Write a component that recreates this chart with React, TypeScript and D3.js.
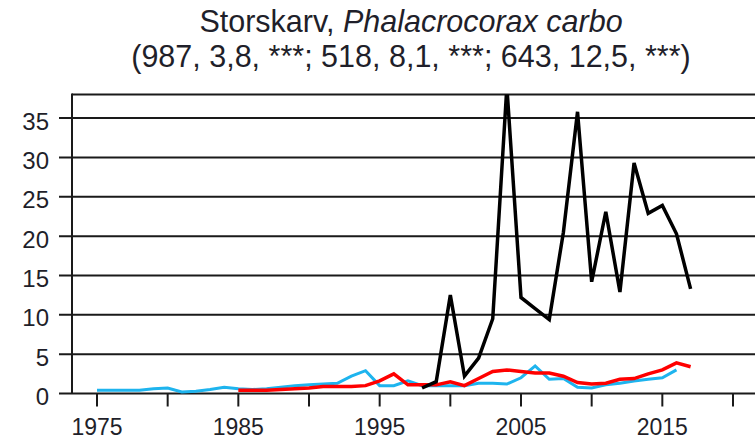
import React from 'react'
import { scaleLinear, line } from 'd3'

// tick values
const yTicks = [0, 5, 10, 15, 20, 25, 30, 35]
const xTicks = [1975, 1980, 1985, 1990, 1995, 2000, 2005, 2010, 2015, 2020]
const xLabels = [1975, 1985, 1995, 2005, 2015]

// series (yearly values)
const blueStart = 1975
const blueValues = [0.4, 0.4, 0.4, 0.4, 0.6, 0.7, 0.2, 0.3, 0.5, 0.8,
	0.6, 0.5, 0.6, 0.8, 1.0, 1.1, 1.2, 1.3, 2.2, 2.9,
	1.0, 1.0, 1.6, 1.0, 1.0, 1.0, 1.0, 1.3, 1.3, 1.2,
	2.0, 3.5, 1.8, 1.9, 0.8, 0.7, 1.1, 1.3, 1.6, 1.8,
	2.0, 3.0]

const redStart = 1985
const redValues = [0.4, 0.4, 0.4, 0.5, 0.6, 0.7, 0.9, 0.9, 0.9, 1.0,
	1.6, 2.5, 1.1, 1.1, 1.1, 1.5, 1.0, 1.9, 2.8, 3.0,
	2.8, 2.6, 2.6, 2.2, 1.4, 1.2, 1.3, 1.8, 1.9, 2.5,
	3.0, 3.9, 3.4]

const blackStart = 1998
const blackValues = [0.7, 1.5, 12.5, 2.2, 4.5, 9.5, 39, 12.2, 10.8, 9.4,
	20.5, 35.8, 14.2, 23.1, 12.9, 29.3, 22.9, 23.9, 20.3, 13.3]

const width = 755
const height = 441
const plotLeft = 72
const plotTop = 94.5
const plotBottom = 393.5
const font = '"Liberation Sans", Arial, sans-serif'
const textColor = '#1f1f2a'

const App = () => {
	const x = scaleLinear().domain([1975, 2020]).range([97, 733])
	const y = scaleLinear().domain([0, 38]).range([plotBottom, plotTop])

	const toPoints = (start: number, values: number[]) => values.map((v, i) => [start + i, v] as [number, number])
	const path = line<[number, number]>().x(d => x(d[0])).y(d => y(d[1]))

	const series = [
		{ name: 'blue', color: '#1eb4ee', w: 3, pts: toPoints(blueStart, blueValues) },
		{ name: 'red', color: '#ff0000', w: 3.5, pts: toPoints(redStart, redValues) },
		{ name: 'black', color: '#000000', w: 3.5, pts: toPoints(blackStart, blackValues) },
	]

	return (
		<svg width={width} height={height} style={{ position: 'absolute', left: 0, top: 0, overflow: 'hidden', background: '#fff' }}>
			<defs>
				<clipPath id="plotClip">
					<rect x={plotLeft} y={plotTop} width={width - plotLeft} height={plotBottom - plotTop + 2} />
				</clipPath>
			</defs>
			<rect width={width} height={height} fill="#fff" />

			{/* title */}
			<text x={411} y={32} textAnchor="middle" fontFamily={font} fontSize={30.5} fill={textColor}>
				Storskarv, <tspan fontStyle="italic">Phalacrocorax carbo</tspan>
			</text>
			<text x={411} y={67} textAnchor="middle" fontFamily={font} fontSize={30.5} fill={textColor}>
				(987, 3,8, ***; 518, 8,1, ***; 643, 12,5, ***)
			</text>

			{/* grid + y ticks */}
			{yTicks.map(t => (
				<g key={`y-${t}`}>
					<line x1={59} x2={width} y1={y(t)} y2={y(t)} stroke="#1a1a1a" strokeWidth={2} />
					<text x={49} y={y(t) + 11.5} textAnchor="end" fontFamily={font} fontSize={24} fill={textColor}>{t}</text>
				</g>
			))}

			{/* frame */}
			<line x1={plotLeft} x2={width} y1={plotTop} y2={plotTop} stroke="#1a1a1a" strokeWidth={2} />
			<line x1={plotLeft} x2={plotLeft} y1={plotTop - 1} y2={plotBottom} stroke="#1a1a1a" strokeWidth={2} />

			{/* x ticks */}
			{xTicks.map(t => (
				<line key={`x-${t}`} x1={x(t)} x2={x(t)} y1={plotBottom} y2={plotBottom + 13} stroke="#1a1a1a" strokeWidth={2} />
			))}
			{xLabels.map(t => (
				<text key={`xl-${t}`} x={x(t)} y={435} textAnchor="middle" fontFamily={font} fontSize={23} fill={textColor}>{t}</text>
			))}

			{/* series */}
			<g clipPath="url(#plotClip)">
				{series.map(s => (
					<path key={s.name} d={path(s.pts) || ''} fill="none" stroke={s.color} strokeWidth={s.w} strokeLinejoin="miter" />
				))}
			</g>
		</svg>
	)
}

export default App
